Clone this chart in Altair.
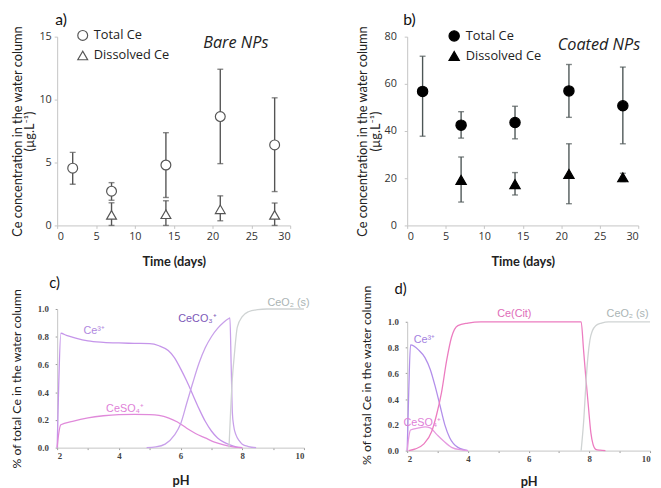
import altair as alt
import pandas as pd

# ---------------- Panel a (bare NPs) ----------------
a_days_total = [2, 7, 14, 21, 28]
a_total = [4.55, 2.72, 4.80, 8.65, 6.40]
a_total_lo = [3.27, 2.00, 2.22, 4.91, 2.69]
a_total_hi = [5.80, 3.40, 7.37, 12.41, 10.14]
a_days_diss = [7, 14, 21, 28]
a_diss = [0.84, 0.89, 1.28, 0.84]
a_diss_lo = [0.0, 0.0, 0.37, 0.0]
a_diss_hi = [1.80, 1.96, 2.35, 1.78]

# ---------------- Panel b (coated NPs) ----------------
b_days_total = [2, 7, 14, 21, 28]
b_total = [56.8, 42.5, 43.6, 57.0, 50.7]
b_total_lo = [37.8, 37.0, 36.7, 45.8, 34.6]
b_total_hi = [71.7, 48.2, 50.5, 68.2, 67.1]
b_days_diss = [7, 14, 21, 28]
b_diss = [19.3, 17.5, 21.8, 20.4]
b_diss_lo = [9.9, 12.9, 9.2, 18.6]
b_diss_hi = [29.0, 22.4, 34.6, 22.1]

series_names = ["Total Ce", "Dissolved Ce"]
x_ticks_time = [0, 5, 10, 15, 20, 25, 30]

# ---------------- Panel c (speciation, bare) ----------------
c_ce3_ph = [2.0, 2.05, 2.12, 2.3, 2.6, 3.0, 3.5, 4.0, 4.5, 5.0, 5.3, 5.6, 5.8, 6.0, 6.2, 6.4, 6.6, 6.8, 7.0, 7.2, 7.4, 7.6, 7.8, 8.0]
c_ce3_val = [0.0, 0.45, 0.825, 0.81, 0.79, 0.77, 0.76, 0.755, 0.752, 0.75, 0.735, 0.70, 0.65, 0.57, 0.48, 0.38, 0.28, 0.19, 0.12, 0.07, 0.04, 0.02, 0.005, 0.0]
c_so4_ph = [2.0, 2.05, 2.12, 2.5, 3.0, 3.5, 4.0, 4.5, 5.0, 5.3, 5.6, 5.9, 6.2, 6.5, 6.8, 7.1, 7.4, 7.7, 8.0]
c_so4_val = [0.0, 0.10, 0.165, 0.19, 0.215, 0.23, 0.238, 0.24, 0.238, 0.232, 0.215, 0.185, 0.14, 0.10, 0.07, 0.04, 0.02, 0.006, 0.0]
c_co3_ph = [4.9, 5.2, 5.5, 5.8, 6.0, 6.2, 6.4, 6.6, 6.8, 7.0, 7.2, 7.4, 7.55, 7.6, 7.64, 7.68, 7.72, 7.8, 7.9, 8.0, 8.2, 8.45]
c_co3_val = [0.0, 0.005, 0.025, 0.09, 0.17, 0.32, 0.47, 0.61, 0.72, 0.80, 0.86, 0.905, 0.93, 0.935, 0.60, 0.25, 0.16, 0.09, 0.05, 0.025, 0.008, 0.0]
c_ceo2_ph = [7.57, 7.62, 7.68, 7.74, 7.84, 8.0, 8.2, 8.5, 8.8, 10.0]
c_ceo2_val = [0.0, 0.25, 0.5, 0.66, 0.87, 0.945, 0.98, 0.995, 1.0, 1.0]

# ---------------- Panel d (speciation, coated) ----------------
d_ce3_ph = [2.0, 2.05, 2.11, 2.38, 2.59, 2.76, 2.92, 3.08, 3.24, 3.40, 3.67, 4.0]
d_ce3_val = [0.0, 0.45, 0.82, 0.78, 0.72, 0.63, 0.50, 0.35, 0.20, 0.10, 0.025, 0.0]
d_so4_ph = [2.0, 2.05, 2.11, 2.38, 2.59, 2.76, 2.97, 3.19, 3.46, 3.78, 4.0]
d_so4_val = [0.0, 0.10, 0.16, 0.176, 0.184, 0.176, 0.126, 0.076, 0.025, 0.005, 0.0]
d_cit_ph = [2.05, 2.27, 2.54, 2.81, 2.97, 3.13, 3.30, 3.46, 3.67, 4.0, 4.43, 7.73, 7.81, 7.89, 7.97, 8.05, 8.12, 8.21, 8.35, 8.53]
d_cit_val = [0.0, 0.013, 0.05, 0.15, 0.28, 0.45, 0.70, 0.88, 0.97, 0.99, 1.0, 1.0, 0.78, 0.55, 0.34, 0.14, 0.05, 0.01, 0.003, 0.0]
d_ceo2_ph = [7.73, 7.82, 7.89, 7.95, 8.02, 8.1, 8.21, 8.4, 8.63, 10.0]
d_ceo2_val = [0.0, 0.25, 0.53, 0.72, 0.86, 0.93, 0.97, 0.99, 1.0, 1.0]

species_c = ["Ce³⁺", "CeSO₄⁺", "CeCO₃⁺", "CeO₂ (s)"]
species_d = ["Ce³⁺", "CeSO₄⁺", "Ce(Cit)", "CeO₂ (s)"]

# annotation anchors (data coordinates)
c_label_ph = [3.2, 4.2, 6.55, 9.5]
c_label_val = [0.84, 0.28, 0.93, 1.04]
d_label_ph = [2.57, 2.5, 5.53, 9.26]
d_label_val = [0.855, 0.21, 1.06, 1.06]
a_legend_pos = dict(sym_x=3.29, txt_x=4.72, ys=[15.1, 13.5])
b_legend_pos = dict(sym_x=6.1, txt_x=7.6, ys=[80.3, 71.8])

SANS = "Lato"
SERIF = "Liberation Serif"
AXC = "#c4c4c4"


def conc_df(days_t, tot, tlo, thi, days_d, dis, dlo, dhi):
    rows = []
    for d, v, lo, hi in zip(days_t, tot, tlo, thi):
        rows.append(dict(day=d, value=v, lo=lo, hi=hi, series=series_names[0]))
    for d, v, lo, hi in zip(days_d, dis, dlo, dhi):
        rows.append(dict(day=d, value=v, lo=lo, hi=hi, series=series_names[1]))
    return pd.DataFrame(rows)


def conc_panel(df, ymax, yvals, fillc, strokec, ebc, msize, tag, tag_dx, note, note_x,
               note_y, leg, width, height, ylabpad):
    xs = alt.Scale(domain=[0, 30], nice=False)
    ys = alt.Scale(domain=[0, ymax], nice=False)
    shp = alt.Scale(domain=series_names, range=["circle", "triangle-up"])
    x_axis = alt.Axis(values=x_ticks_time, grid=False, domainColor=AXC, tickColor=AXC,
                      tickSize=3, labelFont="Open Sans", labelFontSize=11, labelColor="#333",
                      labelPadding=2, labelOverlap=False, title="Time (days)",
                      titleFont=SANS, titleFontSize=13, titleFontWeight="bold",
                      titleColor="#222", titlePadding=15)
    y_axis = alt.Axis(values=yvals, grid=False, domainColor=AXC, tickColor=AXC, tickSize=3,
                      labelFont="Open Sans", labelFontSize=11, labelColor="#333",
                      labelPadding=ylabpad, labelOverlap=False,
                      title=["Ce concentration in the water column", "(µg.L⁻¹)"],
                      titleFont=SANS, titleFontSize=13, titleFontWeight="normal",
                      titleColor="#222", titlePadding=2, titleLineHeight=13)

    def X(f):
        return alt.X(f, type="quantitative", scale=xs, axis=x_axis)

    def Y(f):
        return alt.Y(f, type="quantitative", scale=ys, axis=y_axis)

    base = alt.Chart(df)
    rule = base.mark_rule(color=ebc, strokeWidth=1.4).encode(
        x=X("day"), y=Y("lo"), y2="hi:Q")
    cap_hi = base.mark_tick(orient="horizontal", size=6, thickness=1.4, color=ebc).encode(
        x=X("day"), y=Y("hi"))
    cap_lo = base.mark_tick(orient="horizontal", size=6, thickness=1.4, color=ebc).encode(
        x=X("day"), y=Y("lo"))
    pts = base.mark_point(filled=True, fill=fillc, stroke=strokec, strokeWidth=1.2,
                          size=msize, opacity=1).encode(
        x=X("day"), y=Y("value"),
        shape=alt.Shape("series:N", scale=shp, legend=None))
    # legend (drawn as marks)
    leg_df = pd.DataFrame({"series": series_names, "sx": [leg["sym_x"]] * 2,
                           "tx": [leg["txt_x"]] * 2, "y": leg["ys"]})
    leg_sym = alt.Chart(leg_df).mark_point(filled=True, fill=fillc, stroke=strokec,
                                           strokeWidth=1.2, size=msize, opacity=1).encode(
        x=X("sx"), y=Y("y"), shape=alt.Shape("series:N", scale=shp, legend=None))
    leg_txt = alt.Chart(leg_df).mark_text(font="Open Sans", fontSize=13, color="#222",
                                          align="left").encode(
        x=X("tx"), y=Y("y"), text="series:N")
    txt = alt.Chart(pd.DataFrame({"x": [note_x], "y": [note_y], "t": [note]})).mark_text(
        font="Open Sans", fontSize=16.5, fontStyle="italic", color="#222").encode(
        x=X("x"), y=Y("y"), text="t:N")
    return alt.layer(rule, cap_hi, cap_lo, pts, leg_sym, leg_txt, txt).properties(
        width=width, height=height,
        title=alt.TitleParams(tag, anchor="start", frame="group", font=SANS, fontSize=16,
                              fontWeight="normal", color="#111", offset=0, dx=tag_dx, dy=3))


def species_panel(curves, names, line_colors, label_colors, lab_ph, lab_val, tag, tag_dx,
                  width, height, yrange, title_dy, ytitle_y, xtitle_pad):
    rows = []
    for name, (phs, vals) in zip(names, curves):
        for p, v in zip(phs, vals):
            rows.append(dict(species=name, ph=p, val=v))
    df = pd.DataFrame(rows)
    lab = pd.DataFrame({"species": names, "ph": lab_ph, "val": lab_val})
    xs = alt.Scale(domain=[2, 10], nice=False)
    ys = alt.Scale(domain=[0, 1], nice=False, range=yrange)
    x_axis = alt.Axis(values=list(range(2, 11)),
                      labelExpr="datum.value % 2 == 0 ? datum.label : ''",
                      grid=False, domainColor=AXC, tickColor="#999", tickSize=2,
                      labelFont=SERIF, labelFontSize=9, labelFontWeight="bold",
                      labelColor="#444", labelPadding=2, labelOverlap=False, title="pH",
                      titleFont=SANS, titleFontSize=13, titleFontWeight="bold",
                      titleColor="#222", titlePadding=xtitle_pad)
    yargs = dict(values=[0, 0.2, 0.4, 0.6, 0.8, 1.0], format=".1f", grid=False,
                 domainColor=AXC, tickColor="#999", tickSize=2, labelFont=SERIF,
                 labelFontSize=9, labelFontWeight="bold", labelColor="#444",
                 labelPadding=7, labelOverlap=False,
                 title="% of total Ce in the water column",
                 titleFont=SANS, titleFontSize=12.5, titleFontWeight="normal",
                 titleColor="#222", titlePadding=14)
    if ytitle_y is not None:
        yargs["titleY"] = ytitle_y
    y_axis = alt.Axis(**yargs)
    X = alt.X("ph:Q", scale=xs, axis=x_axis)
    Y = alt.Y("val:Q", scale=ys, axis=y_axis)
    lines = alt.Chart(df).mark_line(strokeWidth=1.3, interpolate="monotone").encode(
        x=X, y=Y,
        color=alt.Color("species:N", scale=alt.Scale(domain=names, range=line_colors),
                        legend=None))
    texts = alt.Chart(lab).mark_text(font="Liberation Sans", fontSize=11).encode(
        x=X, y=Y, text="species:N",
        color=alt.Color("species:N", scale=alt.Scale(domain=names, range=label_colors),
                        legend=None))
    return alt.layer(lines, texts).resolve_scale(color="independent").properties(
        width=width, height=height,
        title=alt.TitleParams(tag, anchor="start", frame="group", font=SANS, fontSize=15,
                              fontWeight="normal", color="#111", offset=0, dx=tag_dx,
                              dy=title_dy))


df_a = conc_df(a_days_total, a_total, a_total_lo, a_total_hi,
               a_days_diss, a_diss, a_diss_lo, a_diss_hi)
df_b = conc_df(b_days_total, b_total, b_total_lo, b_total_hi,
               b_days_diss, b_diss, b_diss_lo, b_diss_hi)

pa = conc_panel(df_a, 15, [0, 5, 10, 15], "white", "#555", "#555", 100, "a)", -2,
                "Bare NPs", 23.0, 14.5, a_legend_pos, 237, 192, 3)
pb = conc_panel(df_b, 80, [0, 20, 40, 60, 80], "black", "black", "#4d5656", 110, "b)", -4,
                "Coated NPs", 24.9, 76.5, b_legend_pos, 235, 192, 8)

pc = species_panel(
    [(c_ce3_ph, c_ce3_val), (c_so4_ph, c_so4_val), (c_co3_ph, c_co3_val),
     (c_ceo2_ph, c_ceo2_val)],
    species_c, ["#c595ea", "#e08ada", "#c8a0ea", "#cfd3d3"],
    ["#b088e0", "#e07fd8", "#7c58b8", "#aab4b4"], c_label_ph, c_label_val, "c)", -8,
    251, 141, [141, 0], 3, None, 15)
pd_ = species_panel(
    [(d_ce3_ph, d_ce3_val), (d_so4_ph, d_so4_val), (d_cit_ph, d_cit_val),
     (d_ceo2_ph, d_ceo2_val)],
    species_d, ["#b28eea", "#e59ae0", "#ec7cc0", "#cfd3d3"],
    ["#a37fe0", "#e07fd8", "#e06cb8", "#aab4b4"], d_label_ph, d_label_val, "d)", -13,
    247, 144, [144, 13], 12, 67, 13)

chart = alt.concat(pa, pb, pc, pd_, columns=2, bounds="flush",
                   spacing={"row": 85, "column": 105}).properties(
    padding={"left": 2, "top": 0, "right": 0, "bottom": 0}
).configure_view(stroke=None).configure_axis(labelOverlap=False)

chart.save("out.html", embed_options={"renderer": "svg", "actions": False})
